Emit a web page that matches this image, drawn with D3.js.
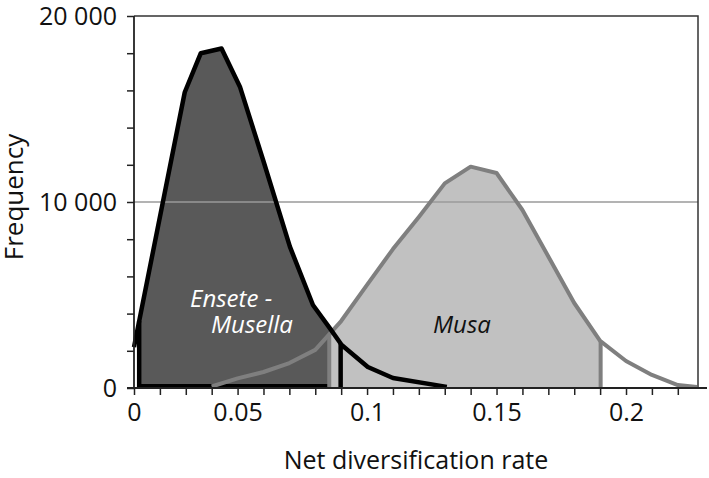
<!DOCTYPE html>
<html><head><meta charset="utf-8">
<script src="https://cdn.jsdelivr.net/npm/d3@7"></script>
<style>
html,body{margin:0;padding:0;background:#fff;}
text{font-family:"Open Sans","Noto Sans",sans-serif;}
</style></head>
<body><svg id="c" width="709" height="478"></svg>
<script>
// ---- data ----
const enseteRate = [0.0100, 0.0296, 0.0358, 0.0438, 0.0509, 0.0601, 0.0702, 0.0791, 0.0856, 0.0902, 0.1003, 0.1100, 0.1308];
const enseteFreq = [2200, 15900, 18000, 18250, 16200, 12150, 7600, 4460, 3220, 2310, 1130, 540, 60];
const enseteHPD = [0.0120, 0.0898];

const musaRate = [0.04, 0.05, 0.06, 0.07, 0.08, 0.09, 0.10, 0.11, 0.12, 0.13, 0.14, 0.15, 0.16, 0.17, 0.18, 0.19, 0.20, 0.21, 0.22, 0.2274];
const musaFreq = [80, 520, 860, 1340, 2050, 3600, 5540, 7470, 9200, 11000, 11900, 11560, 9570, 7070, 4570, 2530, 1450, 700, 160, 50];
const musaHPD = [0.0854, 0.1902];

const xMinorTicks = d3.range(1, 23).map(i => i / 100);     // 0.01 … 0.22
const xTickValues = [0.01, 0.05, 0.10, 0.15, 0.20];
const xTickLabels = ["0", "0.05", "0.1", "0.15", "0.2"];
const yMinorTicks = d3.range(0, 20001, 2000);
const yTickValues = [0, 10000, 20000];
const yTickLabels = ["0", "10 000", "20 000"];
const groupLabels = ["Ensete -", "Musella", "Musa"];

// ---- layout ----
const svg = d3.select("#c");
const x = d3.scaleLinear().domain([0.01, 0.2278]).range([134, 698]);
const y = d3.scaleLinear().domain([0, 20000]).range([388, 16]);

const ens = enseteRate.map((r, i) => ({r, f: enseteFreq[i]}));
const mus = musaRate.map((r, i) => ({r, f: musaFreq[i]}));

function interp(pts, r) {
  for (let i = 0; i < pts.length - 1; i++) {
    if (r >= pts[i].r && r <= pts[i + 1].r) {
      const t = (r - pts[i].r) / (pts[i + 1].r - pts[i].r);
      return pts[i].f + t * (pts[i + 1].f - pts[i].f);
    }
  }
  return 0;
}
function sub(pts, lo, hi) {
  const out = [{r: lo, f: interp(pts, lo)}];
  pts.forEach(p => { if (p.r > lo && p.r < hi) out.push(p); });
  out.push({r: hi, f: interp(pts, hi)});
  return out;
}

const area = d3.area().x(d => x(d.r)).y0(y(0)).y1(d => y(d.f));
const line = d3.line().x(d => x(d.r)).y(d => y(d.f));

// Ensete fill
const ensSub = sub(ens, enseteHPD[0], enseteHPD[1]);
svg.append("path").attr("d", area(ensSub)).attr("fill", "#595959");
svg.append("line")
  .attr("x1", x(enseteHPD[0])).attr("x2", x(enseteHPD[1]))
  .attr("y1", y(0) - 2).attr("y2", y(0) - 2)
  .attr("stroke", "#000").attr("stroke-width", 4);

// Musa fill
const musSub = sub(mus, musaHPD[0], musaHPD[1]);
svg.append("path").attr("d", area(musSub)).attr("fill", "#c1c1c1");

// gridline
svg.append("line").attr("x1", x.range()[0]).attr("x2", x.range()[1])
  .attr("y1", y(10000)).attr("y2", y(10000))
  .attr("stroke", "#9a9a9a").attr("stroke-width", 1.5);

// Musa curve + HPD edges
svg.append("path").attr("d", line(mus)).attr("fill", "none")
  .attr("stroke", "#7f7f7f").attr("stroke-width", 4).attr("stroke-linejoin", "round");
musaHPD.forEach(r => {
  svg.append("line").attr("x1", x(r)).attr("x2", x(r))
    .attr("y1", y(interp(mus, r))).attr("y2", y(0))
    .attr("stroke", "#7f7f7f").attr("stroke-width", 4);
});

// Ensete curve + HPD edges
svg.append("path").attr("d", line(ens)).attr("fill", "none")
  .attr("stroke", "#000").attr("stroke-width", 4.5).attr("stroke-linejoin", "round");
enseteHPD.forEach(r => {
  svg.append("line").attr("x1", x(r)).attr("x2", x(r))
    .attr("y1", y(interp(ens, r))).attr("y2", y(0))
    .attr("stroke", "#000").attr("stroke-width", 4.5);
});

// frame (top, right)
svg.append("path")
  .attr("d", `M${x.range()[0]},${y(20000)}H${x.range()[1]}V${y(0)}`)
  .attr("fill", "none").attr("stroke", "#333").attr("stroke-width", 1.5);

// axes
const fmtY = d => { const i = yTickValues.indexOf(d); return i >= 0 ? yTickLabels[i] : ""; };
const fmtX = d => { const i = xTickValues.findIndex(v => Math.abs(v - d) < 1e-9); return i >= 0 ? xTickLabels[i] : ""; };

const gy = svg.append("g").attr("transform", `translate(${x.range()[0]},0)`)
  .call(d3.axisLeft(y).tickValues(yMinorTicks).tickSize(7).tickPadding(10).tickFormat(fmtY));
const gx = svg.append("g").attr("transform", `translate(0,${y(0)})`)
  .call(d3.axisBottom(x).tickValues(xMinorTicks).tickSize(7).tickPadding(8).tickFormat(fmtX));
[gx, gy].forEach(g => {
  g.select(".domain").remove();
  g.selectAll(".tick line").attr("stroke", "#222").attr("stroke-width", 1.5);
  g.selectAll(".tick text").attr("fill", "#111").style("font-size", "25px").attr("font-family", null);
});
// axis lines
svg.append("line").attr("x1", x.range()[0]).attr("x2", x.range()[0])
  .attr("y1", y(20000)).attr("y2", y(0)).attr("stroke", "#222").attr("stroke-width", 1.8);
svg.append("line").attr("x1", x.range()[0] - 7).attr("x2", 707)
  .attr("y1", y(0)).attr("y2", y(0)).attr("stroke", "#222").attr("stroke-width", 1.8);

// axis titles
svg.append("text").attr("x", 416).attr("y", 469).attr("text-anchor", "middle")
  .style("font-size", "25px").attr("fill", "#111").text("Net diversification rate");
svg.append("text").attr("transform", "translate(23,197) rotate(-90)").attr("text-anchor", "middle")
  .style("font-size", "26px").attr("fill", "#111").text("Frequency");

// group labels
svg.append("text").attr("x", 190).attr("y", 307).style("font-size", "24px").style("font-style", "italic")
  .attr("fill", "#fff").text(groupLabels[0]);
svg.append("text").attr("x", 211).attr("y", 333).style("font-size", "24px").style("font-style", "italic")
  .attr("fill", "#fff").text(groupLabels[1]);
svg.append("text").attr("x", 433).attr("y", 333).style("font-size", "24px").style("font-style", "italic")
  .attr("fill", "#111").text(groupLabels[2]);
</script></body></html>
